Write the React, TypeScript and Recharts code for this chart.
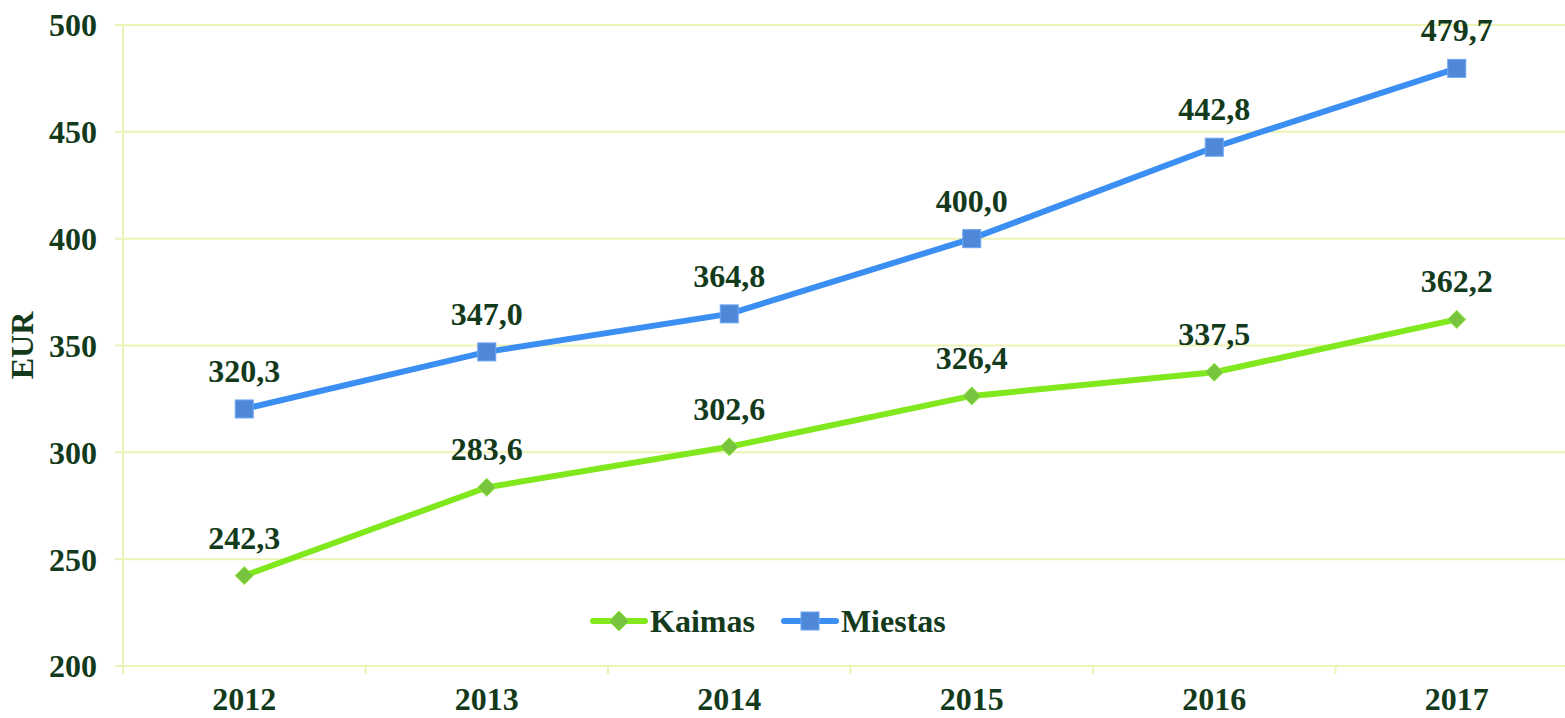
import React from 'react';
import { LineChart, Line, XAxis, YAxis, CartesianGrid, Legend, LabelList, Label } from 'recharts';

const years = ['2012', '2013', '2014', '2015', '2016', '2017'];
const kaimas = [242.3, 283.6, 302.6, 326.4, 337.5, 362.2];
const miestas = [320.3, 347.0, 364.8, 400.0, 442.8, 479.7];
const yTicks = [200, 250, 300, 350, 400, 450, 500];

const data = years.map((y, i) => ({ year: y, Kaimas: kaimas[i], Miestas: miestas[i] }));

const CHART_W = 1590;
const CHART_H = 718;
const Y_W = 123;
const M_RIGHT = 12;
const M_TOP = 25;
const X_H = 52;
const BAND = (CHART_W - M_RIGHT - Y_W) / years.length;

const FONT = '"Liberation Serif", "Times New Roman", serif';
const TEXT = '#133A1A';
const GRID = '#EDF3B5';
const GREEN = '#80E81C';
const GREEN_M = '#78C43E';
const BLUE = '#3B8EF2';
const BLUE_M = '#5088D8';

const fmt = (v: any) => Number(v).toFixed(1).replace('.', ',');

const Diamond = (props: any) => {
  const { cx, cy } = props;
  if (cx == null || cy == null) return null;
  const r = 9;
  return (
    <path
      d={`M${cx},${cy - r} L${cx + r},${cy} L${cx},${cy + r} L${cx - r},${cy} Z`}
      fill={GREEN_M}
      stroke="#8FEA3A"
      strokeWidth={1}
    />
  );
};

const Square = (props: any) => {
  const { cx, cy } = props;
  if (cx == null || cy == null) return null;
  const s = 18;
  return <rect x={cx - s / 2} y={cy - s / 2} width={s} height={s} fill={BLUE_M} stroke="#6BA5F2" strokeWidth={1} />;
};

const XTick = (props: any) => {
  const { x, y, payload } = props;
  return (
    <g>
      <line x1={x - BAND / 2} y1={y - 10} x2={x - BAND / 2} y2={y - 2} stroke={GRID} strokeWidth={2} />
      <text x={x} y={y} dy={34} textAnchor="middle" fill={TEXT} fontSize={32} fontWeight="bold" fontFamily={FONT}>
        {payload.value}
      </text>
    </g>
  );
};

const LegendContent = () => (
  <div style={{ display: 'flex', alignItems: 'center', fontFamily: FONT, fontWeight: 'bold', fontSize: 32, color: TEXT, lineHeight: '36px' }}>
    <svg width={58} height={24} style={{ display: 'block' }}>
      <line x1={3} y1={12} x2={55} y2={12} stroke={GREEN} strokeWidth={6} strokeLinecap="round" />
      <path d="M29,2 L39,12 L29,22 L19,12 Z" fill={GREEN_M} stroke="#8FEA3A" strokeWidth={1} />
    </svg>
    <span style={{ marginLeft: 2 }}>Kaimas</span>
    <svg width={58} height={24} style={{ display: 'block', marginLeft: 26 }}>
      <line x1={3} y1={12} x2={55} y2={12} stroke={BLUE} strokeWidth={6} strokeLinecap="round" />
      <rect x={20} y={3} width={18} height={18} fill={BLUE_M} stroke="#6BA5F2" strokeWidth={1} />
    </svg>
    <span style={{ marginLeft: 2 }}>Miestas</span>
  </div>
);

const YLabel = (props: any) => {
  const vb = props.viewBox || {};
  const cx = (vb.x || 0) + 22;
  const cy = (vb.y || 0) + (vb.height || 0) / 2;
  return (
    <text
      x={cx}
      y={cy}
      transform={`rotate(-90, ${cx}, ${cy})`}
      textAnchor="middle"
      dominantBaseline="central"
      fill={TEXT}
      fontSize={32}
      fontWeight="bold"
      fontFamily={FONT}
    >
      EUR
    </text>
  );
};

export default function App() {
  return (
    <div style={{ position: 'fixed', left: 0, top: 0, width: 1565, height: 718, overflow: 'hidden', background: '#fff' }}>
      <LineChart width={CHART_W} height={CHART_H} data={data} margin={{ top: M_TOP, right: M_RIGHT, left: 0, bottom: 0 }}>
        <CartesianGrid vertical={false} stroke={GRID} strokeWidth={2} />
        <XAxis
          dataKey="year"
          height={X_H}
          padding={{ left: BAND / 2, right: BAND / 2 }}
          axisLine={{ stroke: GRID, strokeWidth: 2 }}
          tickLine={false}
          tickSize={8}
          tickMargin={2}
          tick={<XTick />}
          interval={0}
        />
        <YAxis
          width={Y_W}
          domain={[200, 500]}
          ticks={yTicks}
          interval={0}
          axisLine={{ stroke: GRID, strokeWidth: 2 }}
          tickLine={{ stroke: GRID, strokeWidth: 2 }}
          tickSize={8}
          tickMargin={18}
          tick={{ fill: TEXT, fontSize: 32, fontWeight: 'bold', fontFamily: FONT }}
        >
          <Label content={<YLabel />} />
        </YAxis>
        <Legend
          layout="horizontal"
          verticalAlign="middle"
          align="center"
          content={<LegendContent />}
          wrapperStyle={{ left: 590, top: 603, width: 420 }}
        />
        <Line
          type="linear"
          dataKey="Kaimas"
          stroke={GREEN}
          strokeWidth={6}
          dot={<Diamond />}
          activeDot={false}
          isAnimationActive={false}
        >
          <LabelList dataKey="Kaimas" position="top" offset={27} formatter={fmt} fill={TEXT} fontSize={32} fontWeight="bold" fontFamily={FONT} />
        </Line>
        <Line
          type="linear"
          dataKey="Miestas"
          stroke={BLUE}
          strokeWidth={6}
          dot={<Square />}
          activeDot={false}
          isAnimationActive={false}
        >
          <LabelList dataKey="Miestas" position="top" offset={27} formatter={fmt} fill={TEXT} fontSize={32} fontWeight="bold" fontFamily={FONT} />
        </Line>
      </LineChart>
    </div>
  );
}
